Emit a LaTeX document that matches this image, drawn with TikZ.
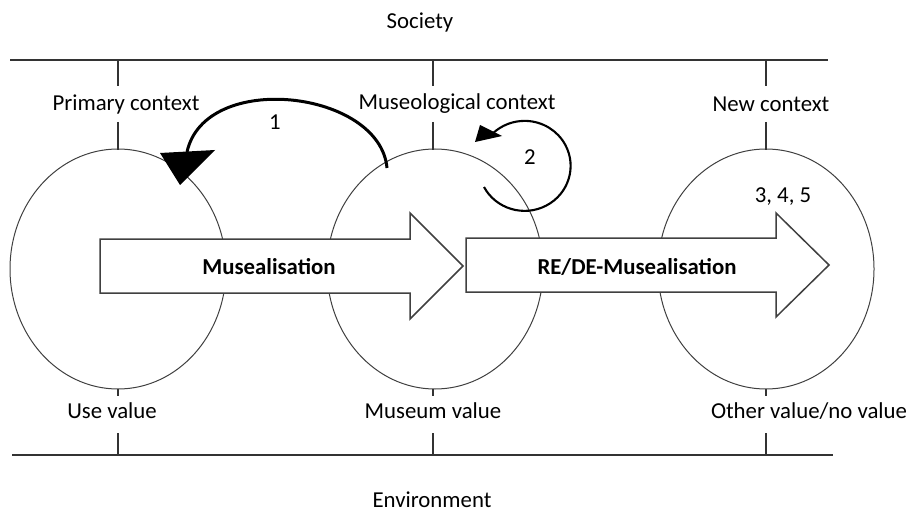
\documentclass[tikz,border=0pt]{standalone}
\usepackage{fontspec}
\setmainfont{Carlito}
\usetikzlibrary{shapes.geometric}
\begin{document}
\begin{tikzpicture}[x=0.5pt,y=-0.5pt,
  lbl/.style={font=\fontsize{11.4}{13}\selectfont, text=black, inner sep=0pt, anchor=center},
  blbl/.style={lbl, font=\fontsize{11.4}{13}\selectfont\bfseries},
  rule/.style={line width=0.75pt, draw=black!80},
  tickline/.style={line width=0.55pt, draw=black!80},
  circ/.style={ellipse, draw=black!75, line width=0.5pt, minimum width=108pt, minimum height=120pt, inner sep=0pt},
  barrow/.style={draw=black!75, line width=0.75pt, fill=white, line join=miter},
  bigcurve/.style={draw=black, line width=1.5pt},
  loopline/.style={draw=black, line width=1.05pt},
  headfill/.style={fill=black}]
\useasboundingbox (0,0) rectangle (909,513);

% horizontal rules
\coordinate (tl) at (10,60);  \coordinate (tr) at (828,60);
\coordinate (bl) at (12,455); \coordinate (br) at (833,455);
\draw[rule] (tl) -- (tr);
\draw[rule] (bl) -- (br);

% circles
\node[circ] (c1) at (118,269) {};
\node[circ] (c2) at (435,269) {};
\node[circ] (c3) at (766,269) {};

% ticks
\foreach \x in {118,433,766}{
  \draw[tickline] (\x,60) -- (\x,86);
  \draw[tickline] (\x,122) -- (\x,150);
  \draw[tickline] (\x,389) -- (\x,396);
  \draw[tickline] (\x,433) -- (\x,455);
}

% texts
\node[lbl] (soc) at (420,22) {Society};
\node[lbl] (env) at (432,500) {Environment};
\node[lbl] (pc) at (126,104) {Primary context};
\node[lbl] (mc) at (457,104) {Museological context};
\node[lbl] (nc) at (771,104) {New context};
\node[lbl] (uv) at (112,411) {Use value};
\node[lbl] (mv) at (433,411) {Museum value};
\node[lbl] (ov) at (809,411) {Other value/no value};

% block arrows
\draw[barrow] (100,239) -- (410,239) -- (410,213) -- (463,266) -- (410,319) -- (410,293) -- (100,293) -- cycle;
\draw[barrow] (466,238) -- (776,238) -- (776,213) -- (829,265) -- (776,317) -- (776,292) -- (466,292) -- cycle;
\node[blbl] (a1) at (269,267) {Musealisation};
\node[blbl] (a2) at (637,267) {RE/DE-Musealisation};

% curved arrow 1
\coordinate (s1) at (387,168);
\coordinate (e1) at (187,152);
\draw[bigcurve] (s1) .. controls (380,90) and (205,70) .. (e1);
\fill[headfill] (160,153) -- (215,150) -- (180,185) -- cycle;
\node[lbl] (n1) at (275,122) {1};

% loop arrow 2
\coordinate (s2) at (484,187);
\draw[loopline] (s2) arc[start angle=152, end angle=-135, x radius=46, y radius=45];
\fill[headfill] (475,142) -- (480,125) -- (502,136) -- cycle;
\node[lbl] (n2) at (530,157) {2};

\node[lbl] (n3) at (783,197) {3, 4, 5};
\end{tikzpicture}
\end{document}
